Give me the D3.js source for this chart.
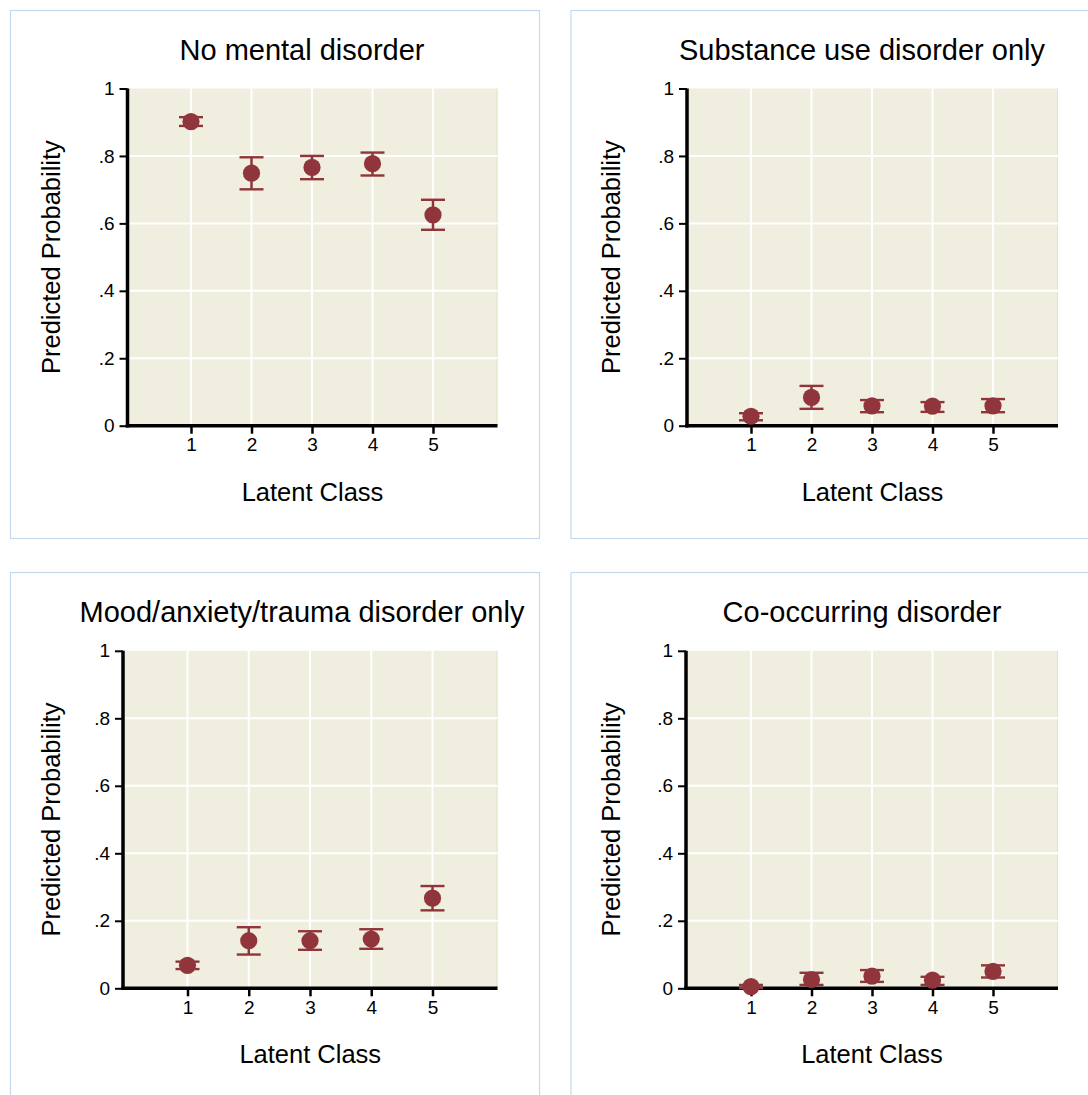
<!DOCTYPE html>
<html lang="en">
<head>
    <meta charset="UTF-8">
    <title>Predicted Probability by Latent Class</title>
    <script src="https://d3js.org/d3.v7.min.js"></script>
    <style>
        body { margin: 0; background: #fff; }
        text { font-family: "Liberation Sans", Arial, Helvetica, sans-serif; fill: #000; }
        .title { font-size: 29px; }
        .axis-title { font-size: 25.5px; }
    </style>
</head>
<body>

<svg width="1088" height="1095"></svg>

<script>
// Data: predicted probability with 95% CI per latent class
const classes = [1, 2, 3, 4, 5];
const yTicks = [0, 0.2, 0.4, 0.6, 0.8, 1];

const titles = [
    "No mental disorder",
    "Substance use disorder only",
    "Mood/anxiety/trauma disorder only",
    "Co-occurring disorder"
];

const noDisorderEst = [0.902, 0.749, 0.766, 0.777, 0.625];
const noDisorderLo  = [0.889, 0.701, 0.731, 0.742, 0.581];
const noDisorderHi  = [0.915, 0.796, 0.800, 0.810, 0.670];

const substanceEst = [0.028, 0.084, 0.059, 0.058, 0.059];
const substanceLo  = [0.016, 0.050, 0.040, 0.041, 0.040];
const substanceHi  = [0.037, 0.118, 0.076, 0.070, 0.079];

const moodEst = [0.068, 0.141, 0.141, 0.146, 0.267];
const moodLo  = [0.057, 0.100, 0.114, 0.117, 0.231];
const moodHi  = [0.079, 0.181, 0.169, 0.175, 0.303];

const coOccurEst = [0.005, 0.026, 0.036, 0.024, 0.050];
const coOccurLo  = [0.001, 0.010, 0.019, 0.010, 0.032];
const coOccurHi  = [0.010, 0.046, 0.054, 0.034, 0.068];

const series = [
    [noDisorderEst, noDisorderLo, noDisorderHi],
    [substanceEst, substanceLo, substanceHi],
    [moodEst, moodLo, moodHi],
    [coOccurEst, coOccurLo, coOccurHi]
];

// Panel layout (pixel positions of each small plot)
const layouts = [
    { box: [10.5, 10.5], axisX: 127.5, right: 497.5, x1: 191, x5: 433, top: 88.5, bottom: 425.7, titleX: 302 },
    { box: [571, 10.5], axisX: 687, right: 1058, x1: 751, x5: 993, top: 88.5, bottom: 425.7, titleX: 862 },
    { box: [10.5, 572.5], axisX: 123, right: 497.5, x1: 187.5, x5: 432.5, top: 650.8, bottom: 988.3, titleX: 302 },
    { box: [571, 572.5], axisX: 686, right: 1058, x1: 751, x5: 993, top: 650.8, bottom: 988.3, titleX: 862 }
];

const markerColor = "#90353b";
const plotBg = "#f0efdf";
const borderColor = "#c5d9ee";

const svg = d3.select("svg");

const fmt = d => d === 0 ? "0" : d === 1 ? "1" : "." + Math.round(d * 10);

layouts.forEach((L, i) => {
    const g = svg.append("g");
    const [est, lo, hi] = series[i];

    // panel border
    g.append("rect")
        .attr("x", L.box[0]).attr("y", L.box[1])
        .attr("width", 529).attr("height", 528)
        .attr("fill", "none")
        .attr("stroke", borderColor)
        .attr("stroke-width", 1.2);

    const x = d3.scaleLinear().domain([1, 5]).range([L.x1, L.x5]);
    const y = d3.scaleLinear().domain([0, 1]).range([L.bottom, L.top]);

    // plot region
    g.append("rect")
        .attr("x", L.axisX).attr("y", L.top)
        .attr("width", L.right - L.axisX).attr("height", L.bottom - L.top)
        .attr("fill", plotBg);
    g.append("line")
        .attr("x1", L.right - 0.5).attr("x2", L.right - 0.5)
        .attr("y1", L.top).attr("y2", L.bottom)
        .attr("stroke", "#e4e0c4").attr("stroke-width", 1);

    // grid lines
    g.selectAll(".hgrid")
        .data(yTicks.filter(t => t > 0 && t < 1))
        .enter().append("line")
        .attr("x1", L.axisX).attr("x2", L.right)
        .attr("y1", d => y(d)).attr("y2", d => y(d))
        .attr("stroke", "#fff").attr("stroke-width", 2);
    g.selectAll(".vgrid")
        .data(classes)
        .enter().append("line")
        .attr("x1", d => x(d)).attr("x2", d => x(d))
        .attr("y1", L.top).attr("y2", L.bottom)
        .attr("stroke", "#fff").attr("stroke-width", 2);

    // y axis
    const yAxis = g.append("g")
        .attr("transform", `translate(${L.axisX},0)`)
        .call(d3.axisLeft(y).tickValues(yTicks).tickFormat(fmt).tickSize(8).tickPadding(5));
    yAxis.attr("font-size", 19).attr("font-family", null);
    yAxis.select(".domain").attr("stroke", "#000").attr("stroke-width", 3.5)
        .attr("d", `M0,${L.bottom + 1.7}V${L.top}`);
    yAxis.selectAll(".tick line").attr("stroke", "#000").attr("stroke-width", 2);
    yAxis.selectAll(".tick text").style("font-size", "19px").attr("fill", "#000");

    // x axis
    const xAxis = g.append("g")
        .attr("transform", `translate(0,${L.bottom})`)
        .call(d3.axisBottom(x).tickValues(classes).tickFormat(d3.format("d")).tickSize(8).tickPadding(4));
    xAxis.attr("font-size", 19).attr("font-family", null);
    xAxis.select(".domain").attr("stroke", "#000").attr("stroke-width", 3.4)
        .attr("d", `M${L.axisX - 1.7},0H${L.right}`);
    xAxis.selectAll(".tick line").attr("stroke", "#000").attr("stroke-width", 2.5);
    xAxis.selectAll(".tick text").style("font-size", "19px").attr("fill", "#000");

    // error bars + markers
    const pts = classes.map((c, k) => ({ c, est: est[k], lo: lo[k], hi: hi[k] }));
    const capW = 12;

    g.selectAll(".bar")
        .data(pts)
        .enter().append("line")
        .attr("x1", d => x(d.c)).attr("x2", d => x(d.c))
        .attr("y1", d => y(d.lo)).attr("y2", d => y(d.hi))
        .attr("stroke", markerColor).attr("stroke-width", 2.5);
    g.selectAll(".capHi")
        .data(pts)
        .enter().append("line")
        .attr("x1", d => x(d.c) - capW).attr("x2", d => x(d.c) + capW)
        .attr("y1", d => y(d.hi)).attr("y2", d => y(d.hi))
        .attr("stroke", markerColor).attr("stroke-width", 2.4);
    g.selectAll(".capLo")
        .data(pts)
        .enter().append("line")
        .attr("x1", d => x(d.c) - capW).attr("x2", d => x(d.c) + capW)
        .attr("y1", d => y(d.lo)).attr("y2", d => y(d.lo))
        .attr("stroke", markerColor).attr("stroke-width", 2.4);
    g.selectAll(".pt")
        .data(pts)
        .enter().append("circle")
        .attr("cx", d => x(d.c)).attr("cy", d => y(d.est))
        .attr("r", 8.6)
        .attr("fill", markerColor);

    // titles
    g.append("text")
        .attr("class", "title")
        .attr("x", L.titleX).attr("y", L.box[1] + 49.5)
        .attr("text-anchor", "middle")
        .text(titles[i]);

    g.append("text")
        .attr("class", "axis-title")
        .attr("x", (L.axisX + L.right) / 2).attr("y", L.bottom + 75)
        .attr("text-anchor", "middle")
        .text("Latent Class");

    const ly = (L.top + L.bottom) / 2;
    g.append("text")
        .attr("class", "axis-title")
        .attr("transform", `translate(${L.box[0] + 49},${ly}) rotate(-90)`)
        .attr("text-anchor", "middle")
        .text("Predicted Probability");
});
</script>

</body>
</html>
